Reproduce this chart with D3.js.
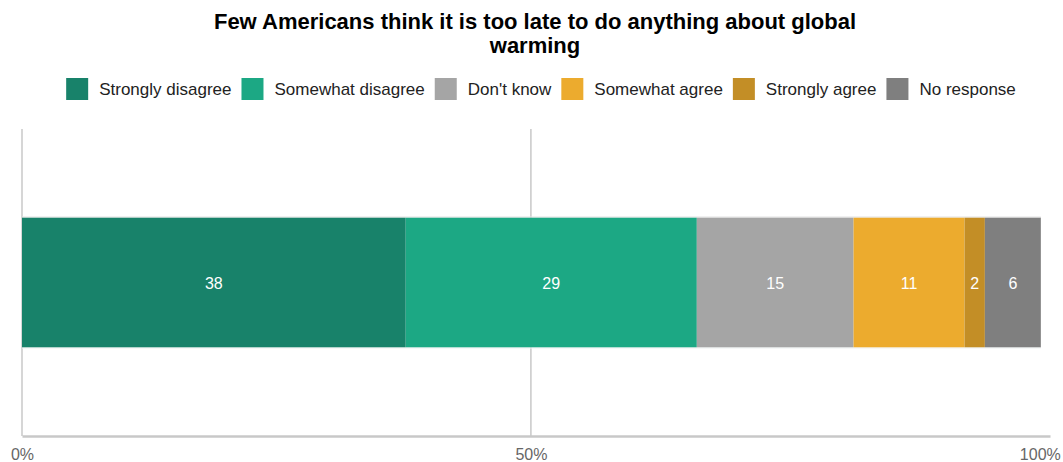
<!DOCTYPE html>
<html>
<head>
<meta charset="utf-8">
<script src="https://cdn.jsdelivr.net/npm/d3@7"></script>
<style>
  html, body { margin: 0; padding: 0; background: #fff; }
  text { font-family: "Liberation Sans", Arial, Helvetica, sans-serif; }
</style>
</head>
<body>
<svg id="chart" width="1063" height="462"></svg>
<script>
const titleLines = ["Few Americans think it is too late to do anything about global", "warming"];
const categories = ["Strongly disagree", "Somewhat disagree", "Don't know", "Somewhat agree", "Strongly agree", "No response"];
const values = [37.7, 28.6, 15.4, 10.9, 2.0, 5.5];
const labels = ["38", "29", "15", "11", "2", "6"];
const colors = ["#18826a", "#1ca884", "#a5a5a5", "#ecab2e", "#c38e26", "#7f7f7f"];
const tickValues = [0, 50, 100];
const tickLabels = ["0%", "50%", "100%"];

const svg = d3.select("#chart");
const plot = { left: 22, right: 1050, top: 129, bottom: 436 };

const x = d3.scaleLinear().domain([0, 101]).range([plot.left, plot.right]);
const y = d3.scaleBand().domain(["all"]).range([plot.top, plot.bottom]).paddingInner(0).paddingOuter(0.68);

// Title
const title = svg.append("text")
  .attr("x", 535).attr("y", 29)
  .attr("text-anchor", "middle")
  .attr("font-size", 22).attr("font-weight", "bold").attr("fill", "#000");
titleLines.forEach((t, i) => {
  title.append("tspan").attr("x", 535).attr("dy", i === 0 ? 0 : 24).text(t);
});

// Legend
const legend = svg.append("g");
const sw = 22, gapSwText = 11, gapItems = 10;
let cx = 0;
categories.forEach((c, i) => {
  const g = legend.append("g");
  g.append("rect").attr("x", 0).attr("y", 78).attr("width", sw).attr("height", sw).attr("fill", colors[i]);
  const t = g.append("text").attr("x", sw + gapSwText).attr("y", 95)
    .attr("font-size", 17).attr("fill", "#222").text(c);
  const w = sw + gapSwText + t.node().getComputedTextLength();
  g.attr("transform", `translate(${cx},0)`);
  cx += w + gapItems;
});
const legendW = cx - gapItems;
legend.attr("transform", `translate(${541 - legendW / 2},0)`);

// Grid / axis lines
const gridColor = "#c8c8c8";
svg.append("line").attr("x1", x(0)).attr("x2", x(0)).attr("y1", plot.top).attr("y2", plot.bottom)
  .attr("stroke", gridColor).attr("stroke-width", 1.5);
svg.append("line").attr("x1", x(50)).attr("x2", x(50)).attr("y1", plot.top).attr("y2", plot.bottom)
  .attr("stroke", gridColor).attr("stroke-width", 1.5);

// Stacked bar
const stacked = [];
let acc = 0;
values.forEach((v, i) => { stacked.push({ x0: acc, x1: acc + v, v, i }); acc += v; });

const barG = svg.append("g");
barG.selectAll("rect").data(stacked).join("rect")
  .attr("x", d => x(d.x0))
  .attr("width", d => x(d.x1) - x(d.x0))
  .attr("y", y("all"))
  .attr("height", y.bandwidth())
  .attr("fill", d => colors[d.i]);
barG.append("line")
  .attr("x1", x(0)).attr("x2", x(acc)).attr("y1", y("all") - 0.5).attr("y2", y("all") - 0.5)
  .attr("stroke", "#e4e4e4").attr("stroke-width", 1);
barG.append("line")
  .attr("x1", x(0)).attr("x2", x(acc)).attr("y1", y("all") + y.bandwidth() + 0.5).attr("y2", y("all") + y.bandwidth() + 0.5)
  .attr("stroke", "#eef2f2").attr("stroke-width", 1);

barG.selectAll("text.val").data(stacked).join("text")
  .attr("class", "val")
  .attr("x", d => (x(d.x0) + x(d.x1)) / 2)
  .attr("y", y("all") + y.bandwidth() / 2 + 6)
  .attr("text-anchor", "middle")
  .attr("font-size", 16).attr("fill", "#fff")
  .text(d => labels[d.i]);

// X axis
const xAxis = d3.axisBottom(x).tickValues(tickValues).tickFormat((d, i) => tickLabels[i]).tickSize(0).tickPadding(13);
const axG = svg.append("g").attr("transform", `translate(0,${plot.bottom})`).call(xAxis);
axG.select(".domain").attr("stroke", gridColor).attr("stroke-width", 2.5);
axG.selectAll(".tick text").attr("font-size", 16).attr("fill", "#666").attr("font-family", "Liberation Sans, Arial, sans-serif");
</script>
</body>
</html>
